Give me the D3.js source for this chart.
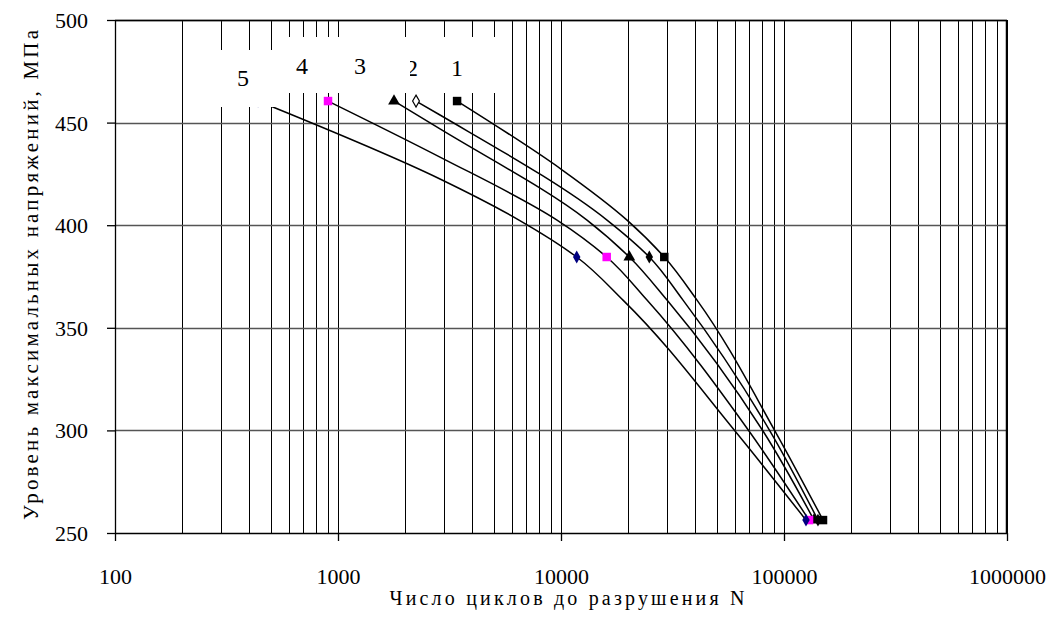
<!DOCTYPE html>
<html>
<head>
<meta charset="utf-8">
<script src="https://cdnjs.cloudflare.com/ajax/libs/d3/7.8.5/d3.min.js"></script>
<style>
body { margin: 0; background: #fff; }
text { font-family: "Liberation Serif", "Times New Roman", serif; fill: #000; }
</style>
</head>
<body>
<script>
var w = 1056, h = 631;

var xTicks = [100, 1000, 10000, 100000, 1000000];
var yTicks = [250, 300, 350, 400, 450, 500];
var labels = ["1", "2", "3", "4", "5"];

// lines: [N, stress]
var curve1 = [[3420, 460.5], [10100, 427], [19770, 402.5], [29050, 384.5], [40730, 363.5], [91130, 299.7], [149600, 256.3]];
var curve2 = [[2238, 460.5], [2867, 453.7], [16080, 402.5], [24890, 384.5], [35250, 363.5], [86540, 299.7], [142000, 256.3]];
var curve3 = [[1783, 460.5], [2867, 446.9], [13080, 402.5], [20250, 384.5], [29880, 363.5], [80490, 299.7], [136300, 256.3]];
var curve4 = [[902, 460.5], [2867, 433.2], [9597, 402.5], [16030, 384.5], [24300, 363.5], [69660, 299.7], [129500, 256.3]];
var curve5 = [[438, 460.5], [2867, 422.5], [6481, 402.5], [11760, 384.5], [18970, 363.5], [60300, 299.7], [125500, 256.3]];

// test points: [N, stress, marker]
var points1 = [[3420, 460.5, "sq"], [29050, 384.5, "sq"], [149600, 256.3, "sq"]];
var points2 = [[2238, 460.5, "dopen"], [24890, 384.5, "d"], [142000, 256.3, "d"]];
var points3 = [[1783, 460.5, "tri"], [20250, 384.5, "tri"], [136300, 256.3, "tri"]];
var points4 = [[902, 460.5, "sq"], [16030, 384.5, "sq"], [129500, 256.3, "sq"]];
var points5 = [[438, 460.5, "d"], [11760, 384.5, "d"], [125500, 256.3, "d"]];

var curves = [curve1, curve2, curve3, curve4, curve5];
var points = [points1, points2, points3, points4, points5];
var colors = ["#000000", "#000000", "#000000", "#ff00ff", "#000080"];

var pLeft = 115, pRight = 1007, pTop = 20, pBottom = 533;

var x = d3.scaleLog().domain([100, 1000000]).range([pLeft, pRight]);
var y = d3.scaleLinear().domain([250, 500]).range([pBottom, pTop]);

var svg = d3.select("body").append("svg")
    .attr("width", w)
    .attr("height", h);

// vertical grid at every 1..9 x decade
var xGrid = [];
for (var p = 2; p < 6; p++) {
    for (var m = 1; m <= 9; m++) {
        xGrid.push(m * Math.pow(10, p));
    }
}
xGrid.push(1000000);

svg.selectAll(".vgrid")
    .data(xGrid.filter(function(d) { return d > 100; }))
    .enter()
    .append("line")
    .attr("class", "vgrid")
    .attr("x1", function(d) { return Math.round(x(d)) + 0.5; })
    .attr("x2", function(d) { return Math.round(x(d)) + 0.5; })
    .attr("y1", pTop)
    .attr("y2", pBottom)
    .style("stroke", "#000")
    .style("stroke-width", 1);

svg.selectAll(".hgrid")
    .data(yTicks.filter(function(d) { return d > 250; }))
    .enter()
    .append("line")
    .attr("class", "hgrid")
    .attr("x1", pLeft)
    .attr("x2", pRight)
    .attr("y1", function(d) { return Math.round(y(d)) + 0.5; })
    .attr("y2", function(d) { return Math.round(y(d)) + 0.5; })
    .style("stroke", "#555")
    .style("stroke-width", 1.3);

var line = d3.line()
    .x(function(d) { return x(d[0]); })
    .y(function(d) { return y(d[1]); })
    .curve(d3.curveMonotoneY);

svg.selectAll(".curve")
    .data(curves)
    .enter()
    .append("path")
    .attr("class", "curve")
    .attr("d", line)
    .style("fill", "none")
    .style("stroke", "#000")
    .style("stroke-width", 1.5);

var shapes = {
    sq: d3.symbol().type(d3.symbolSquare).size(72),
    d: d3.symbol().type(d3.symbolDiamond).size(48),
    dopen: d3.symbol().type(d3.symbolDiamond).size(40),
    tri: d3.symbol().type(d3.symbolTriangle).size(60)
};

points.forEach(function(pts, i) {
    svg.selectAll(".pt" + i)
        .data(pts)
        .enter()
        .append("path")
        .attr("class", "pt" + i)
        .attr("transform", function(d) {
            return "translate(" + x(d[0]) + "," + y(d[1]) + ")";
        })
        .attr("d", function(d) { return shapes[d[2]](); })
        .style("fill", function(d) { return d[2] == "dopen" ? "#fff" : colors[i]; })
        .style("stroke", function(d) { return d[2] == "dopen" ? "#000" : "none"; })
        .style("stroke-width", 1.2);
});

// series labels with white boxes (later ones overlap earlier)
var labelBox = [
    {x0: 435, x1: 500, y0: 37, y1: 93, tx: 457, ty: 76},
    {x0: 390, x1: 440, y0: 37, y1: 93, tx: 412, ty: 76},
    {x0: 338, x1: 410, y0: 37, y1: 93, tx: 360, ty: 74},
    {x0: 280, x1: 345, y0: 37, y1: 93, tx: 302, ty: 74},
    {x0: 221, x1: 286, y0: 50, y1: 107, tx: 243, ty: 86}
];

labelBox.forEach(function(b, i) {
    svg.append("rect")
        .attr("x", b.x0)
        .attr("y", b.y0)
        .attr("width", b.x1 - b.x0)
        .attr("height", b.y1 - b.y0)
        .style("fill", "#fff");
    svg.append("text")
        .attr("x", b.tx)
        .attr("y", b.ty)
        .attr("text-anchor", "middle")
        .style("font-size", "24px")
        .text(labels[i]);
});

// frame
svg.append("line")
    .attr("x1", pLeft).attr("x2", pRight)
    .attr("y1", pTop + 0.5).attr("y2", pTop + 0.5)
    .style("stroke", "#000").style("stroke-width", 1.5);
svg.append("line")
    .attr("x1", pRight - 0.5).attr("x2", pRight - 0.5)
    .attr("y1", pTop).attr("y2", pBottom)
    .style("stroke", "#000").style("stroke-width", 1.5);

var xAxis = d3.axisBottom(x)
    .tickValues(xTicks)
    .tickSize(8)
    .tickFormat(d3.format("d"));

svg.append("g")
    .attr("class", "axis")
    .attr("transform", "translate(0," + pBottom + ")")
    .call(xAxis)
    .call(function(g) {
        g.selectAll("text").attr("dy", 0).attr("y", 51).style("font-size", "22px").style("font-family", "Liberation Serif");
        g.select(".domain").attr("d", "M" + pLeft + ",0.5H" + pRight);
    });

var yAxis = d3.axisLeft(y)
    .tickValues(yTicks)
    .tickSize(8);

svg.append("g")
    .attr("class", "axis")
    .attr("transform", "translate(" + pLeft + ",0)")
    .call(yAxis)
    .call(function(g) {
        g.selectAll("text").attr("x", -27).attr("dy", "0.34em").style("font-size", "22px").style("font-family", "Liberation Serif");
        g.select(".domain").attr("d", "M0.5," + pTop + "V" + pBottom);
    });

svg.selectAll(".axis path, .axis line")
    .style("stroke", "#000")
    .style("stroke-width", 1.3);

svg.append("text")
    .attr("x", 567)
    .attr("y", 605)
    .attr("text-anchor", "middle")
    .attr("textLength", 355)
    .attr("lengthAdjust", "spacing")
    .style("font-size", "20px")
    .text("Число циклов до разрушения N");

svg.append("text")
    .attr("transform", "translate(38,275) rotate(-90)")
    .attr("text-anchor", "middle")
    .attr("textLength", 490)
    .attr("lengthAdjust", "spacing")
    .style("font-size", "21px")
    .text("Уровень максимальных напряжений, МПа");
</script>
</body>
</html>
